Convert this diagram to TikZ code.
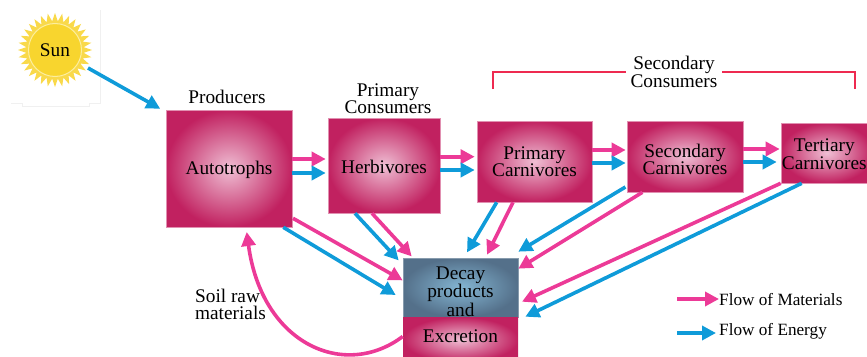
\documentclass[tikz,border=0pt]{standalone}
\usepackage{fontspec}
\setmainfont{Liberation Serif}
\usetikzlibrary{arrows.meta,shapes.geometric}

\definecolor{boxout}{HTML}{C12160}
\definecolor{boxin}{HTML}{EFBFD4}
\definecolor{decayout}{HTML}{54708A}
\definecolor{decayin}{HTML}{84B6D3}
\definecolor{matpink}{HTML}{EC3A97}
\definecolor{enblue}{HTML}{0F9BD9}
\definecolor{bracketred}{HTML}{EE2A50}
\definecolor{sunray}{HTML}{F9D94A}
\definecolor{sunball}{HTML}{F8D52E}
\definecolor{sunring}{HTML}{FCEE9E}
\pgfdeclareradialshading{boxglow}{\pgfpoint{0bp}{0bp}}{color(0bp)=(boxin); color(25bp)=(boxout); color(50bp)=(boxout)}
\pgfdeclareradialshading{decayglow}{\pgfpoint{0bp}{0bp}}{color(0bp)=(decayin); color(25bp)=(decayout); color(50bp)=(decayout)}

\begin{document}
\begin{tikzpicture}
      [x=1pt,y=-1pt,
      every node/.style={inner sep=0pt,align=center,font=\fontsize{19.3}{17.5}\selectfont},
      pbox/.style={shape=rectangle,draw=boxin!70!boxout,line width=0.6pt,shading=boxglow},
      dbox/.style={shape=rectangle,draw=decayout!70,line width=0.6pt,shading=decayglow},
      flowm/.style={draw=matpink,line width=3.6pt,-{Triangle[length=14pt,width=14pt]}},
      flowe/.style={draw=enblue,line width=3.6pt,-{Triangle[length=14pt,width=14pt]}},
      legtext/.style={anchor=west,font=\fontsize{17.2}{17.5}\selectfont}]
\useasboundingbox (0,0) rectangle (867,356);
% faint frame round the sun
\draw[black!6,line width=0.5pt] (100,10) -- (100,103) -- (89,103) -- (89,106) -- (22,106) -- (22,103) -- (11,103);
\node[shape=star,star points=32,star point ratio=1.28,minimum size=74pt,fill=sunray] (rays) at (55,50) {};
\node[shape=circle,minimum size=53pt,fill=sunball,draw=sunring,line width=1pt] (sun) at (55,50) {Sun};

% boxes
\node[pbox,minimum width=126pt,minimum height=117pt] (auto) at (229,168.5) {};
\node[pbox,minimum width=112pt,minimum height=95pt] (herb) at (384,165.5) {};
\node[pbox,minimum width=115pt,minimum height=81pt] (pcarn) at (534.5,161.5) {};
\node[pbox,minimum width=116pt,minimum height=71pt] (scarn) at (685,156.5) {};
\node[pbox,minimum width=92pt,minimum height=60pt] (tcarn) at (827,153) {};
\node[dbox,minimum width=115pt,minimum height=59pt] (decay) at (460.5,287.5) {};
\node[pbox,draw=none,minimum width=115pt,minimum height=45pt] (excr) at (460.5,339.5) {};

% box texts
\node[yshift=-1pt] (autotxt) at (auto) {Autotrophs};
\node[yshift=-1.5pt] (herbtxt) at (herb) {Herbivores};
\node (pcarntxt) at (pcarn) {Primary\\Carnivores};
\node[yshift=-3pt] (scarntxt) at (scarn) {Secondary\\Carnivores};
\node[xshift=-2.7pt,yshift=-1pt] (tcarntxt) at (tcarn) {Tertiary\\Carnivores};
\node[yshift=-4pt] (decaytxt) at (decay) {Decay\\products\\and};
\node[yshift=3pt] (excrtxt) at (excr) {Excretion};

% labels
\node (prod) at (227,97) {Producers};
\node (pcons) at (388,98.5) {Primary\\Consumers};
\node (scons) at (674,72) {Secondary\\Consumers};
\node[align=left] (soil) at (230.5,304.5) {Soil raw\\materials};
\coordinate (brl) at (493,89);
\coordinate (brr) at (854.5,89);
\draw[bracketred,line width=2pt] (brl) |- ([xshift=-4pt]scons.west);
\draw[bracketred,line width=2pt] (brr) |- ([xshift=4pt]scons.east);

% flows along the chain
\draw[flowe] ([xshift=33pt,yshift=-18pt]sun.center) -- ([xshift=-5.5pt,yshift=1pt]auto.north west);
\draw[flowm] ([yshift=9.5pt]auto.east) -- ([xshift=-2pt,yshift=6.5pt]herb.west);
\draw[flowe] ([yshift=-4.5pt]auto.east) -- ([xshift=-2pt,yshift=-7.5pt]herb.west);
\draw[flowm] ([yshift=8.8pt]herb.east) -- ([xshift=-2pt,yshift=4.8pt]pcarn.west);
\draw[flowe] ([yshift=-4.5pt]herb.east) -- ([xshift=-2pt,yshift=-8.5pt]pcarn.west);
\draw[flowm] ([yshift=11.5pt]pcarn.east) -- ([xshift=-1pt,yshift=6.5pt]scarn.west);
\draw[flowe] ([yshift=-1.5pt]pcarn.east) -- ([xshift=-1pt,yshift=-6.5pt]scarn.west);
\draw[flowm] ([yshift=7.5pt]scarn.east) -- ([xshift=-1pt,yshift=4pt]tcarn.west);
\draw[flowe] ([yshift=-5.5pt]scarn.east) -- ([xshift=-4pt,yshift=-9pt]tcarn.west);

% flows down to decay
\draw[flowm] ([xshift=0.7pt,yshift=9pt]auto.south east) -- ([yshift=-22.7pt]decay.north west);
\draw[flowe] ([xshift=-9pt]auto.south east) -- ([xshift=-7pt,yshift=-7.5pt]decay.west);
\draw[flowe] ([xshift=-29pt]herb.south) -- ([xshift=-4pt,yshift=-2.7pt]decay.north west);
\draw[flowm] ([xshift=-12pt]herb.south) -- ([xshift=9pt,yshift=1.3pt]decay.north west);
\draw[flowe] ([xshift=-37.8pt]pcarn.south) -- ([xshift=6.5pt,yshift=5.3pt]decay.north);
\draw[flowm] ([xshift=-21.5pt]pcarn.south) -- ([xshift=26.5pt,yshift=3pt]decay.north);
\draw[flowe] ([xshift=-1.3pt,yshift=5.3pt]scarn.south west) -- ([yshift=6pt]decay.north east);
\draw[flowm] ([xshift=15.7pt]scarn.south west) -- ([yshift=-11pt]decay.north east);
\draw[flowm] (tcarn.south west) -- ([xshift=3.7pt,yshift=-14.2pt]decay.east);
\draw[flowe] ([xshift=21pt]tcarn.south west) -- ([xshift=7pt]excr.north east);
\draw[flowm] ([yshift=3pt]excr.west) .. controls (345,380) and (262,345) .. ([xshift=17.7pt,yshift=-4.7pt]auto.south);

% legend
\node[legtext] (legm) at (719,300) {Flow of Materials};
\node[legtext] (lege) at (719,331) {Flow of Energy};
\coordinate (legmfrom) at (677,299);
\coordinate (legefrom) at (677,333);
\draw[flowm] (legmfrom) -- (legm.west |- legmfrom);
\draw[flowe] (legefrom) -- ([xshift=-3pt]lege.west |- legefrom);
\end{tikzpicture}
\end{document}
